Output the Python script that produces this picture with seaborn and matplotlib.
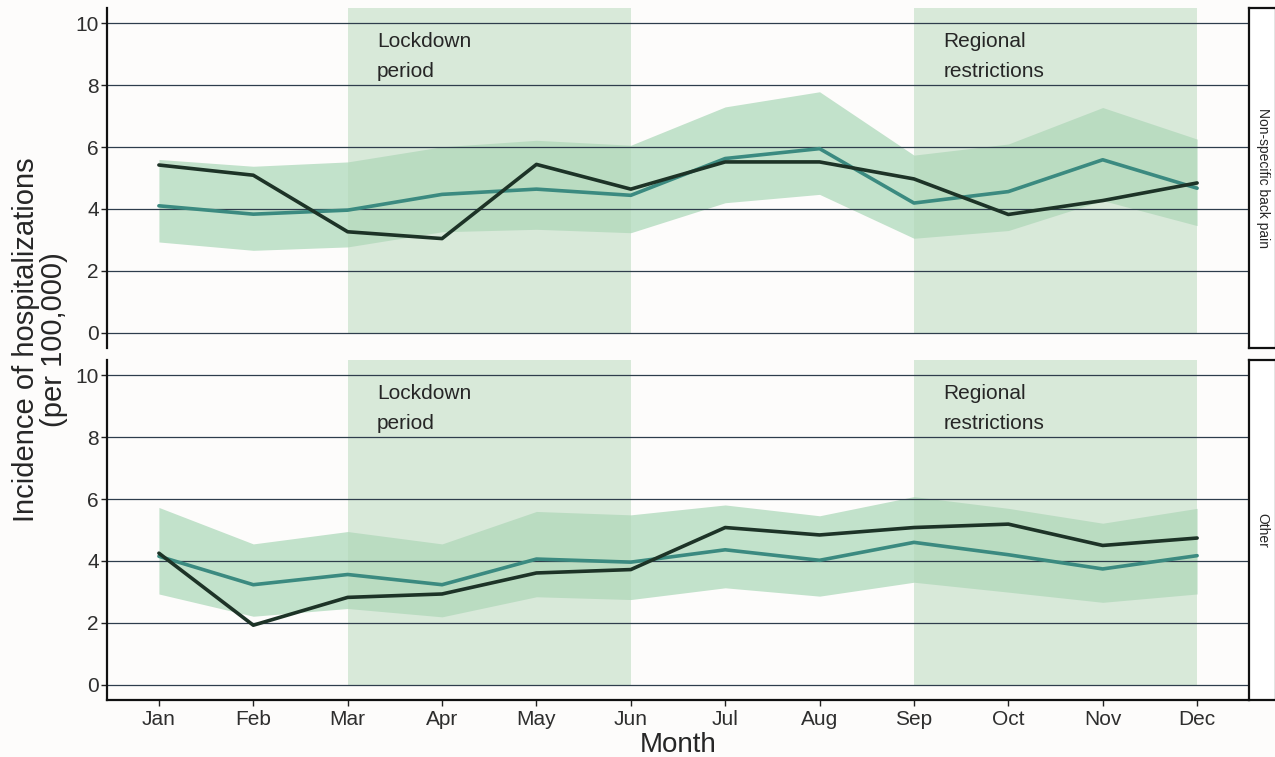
import numpy as np
import pandas as pd
import matplotlib
matplotlib.use("Agg")
import matplotlib.pyplot as plt
import seaborn as sns

# ---------------- data ----------------
months = ["Jan", "Feb", "Mar", "Apr", "May", "Jun",
          "Jul", "Aug", "Sep", "Oct", "Nov", "Dec"]
panels = ["Non-specific back pain", "Other"]

observed_nsbp = [5.42, 5.09, 3.26, 3.04, 5.44, 4.64, 5.52, 5.52, 4.97, 3.82, 4.27, 4.84]
expected_nsbp = [4.10, 3.83, 3.96, 4.47, 4.64, 4.44, 5.63, 5.95, 4.19, 4.56, 5.59, 4.67]
upper_nsbp = [5.60, 5.38, 5.52, 6.01, 6.22, 6.06, 7.30, 7.79, 5.74, 6.10, 7.28, 6.26]
lower_nsbp = [2.93, 2.66, 2.77, 3.26, 3.34, 3.23, 4.20, 4.47, 3.05, 3.30, 4.27, 3.46]

observed_other = [4.25, 1.92, 2.82, 2.93, 3.61, 3.72, 5.08, 4.84, 5.08, 5.19, 4.50, 4.74]
expected_other = [4.15, 3.23, 3.56, 3.23, 4.06, 3.96, 4.36, 4.02, 4.60, 4.20, 3.74, 4.17]
upper_other = [5.73, 4.55, 4.95, 4.55, 5.60, 5.49, 5.81, 5.46, 6.08, 5.70, 5.22, 5.70]
lower_other = [2.93, 2.21, 2.46, 2.19, 2.84, 2.75, 3.13, 2.86, 3.31, 2.99, 2.66, 2.93]

periods = [("Mar", "Jun", "Lockdown\nperiod"), ("Sep", "Dec", "Regional\nrestrictions")]
y_ticks = [0, 2, 4, 6, 8, 10]

# ---------------- styling ----------------
sns.set_theme(style="white")
plt.rcParams["font.family"] = ["Liberation Sans", "DejaVu Sans"]

C_OBS = "#1d3327"
C_EXP = "#3b8a80"
C_RIB = "#c2e2cb"
C_SHADE = "#b4d7b9"
C_GRID = "#2e3d4c"
C_TXT = "#262626"
C_TICK = "#2e2e2e"
BG = "#fdfcfb"

fig = plt.figure(figsize=(12.75, 7.57), dpi=100, facecolor=BG)

L, W = 107 / 1275, (1249 - 107) / 1275
H = 340 / 757
axes_pos = [[L, 1 - 348 / 757, W, H], [L, 1 - 700 / 757, W, H]]

data = {
    panels[0]: (observed_nsbp, expected_nsbp, lower_nsbp, upper_nsbp),
    panels[1]: (observed_other, expected_other, lower_other, upper_other),
}

x_idx = np.arange(len(months))
ylim = (-0.5, 10.5)

for i, panel in enumerate(panels):
    ax = fig.add_axes(axes_pos[i])
    ax.set_facecolor(BG)
    obs, exp, lo, hi = data[panel]

    # ribbon (prediction interval)
    ax.fill_between(x_idx, lo, hi, color=C_RIB, lw=0, zorder=0.8)

    # shaded periods
    for start, end, label in periods:
        x0, x1 = months.index(start), months.index(end)
        ax.fill_between([x0, x1], 0, ylim[1], color=C_SHADE, alpha=0.5,
                        lw=0, zorder=0.9)
        ax.text(x0 + 0.31, 9.72, label, ha="left", va="top", fontsize=15,
                color=C_TXT, linespacing=1.75, zorder=3)

    df = pd.DataFrame({
        "month": np.concatenate([x_idx, x_idx]),
        "value": np.concatenate([obs, exp]),
        "series": ["Observed"] * len(months) + ["Expected"] * len(months),
    })
    sns.lineplot(data=df, x="month", y="value", hue="series",
                 palette={"Observed": C_OBS, "Expected": C_EXP},
                 hue_order=["Expected", "Observed"],
                 linewidth=2.6, legend=False, ax=ax, zorder=2)

    ax.set_xlim(-0.55, 11.55)
    ax.set_ylim(*ylim)
    ax.set_yticks(y_ticks)
    ax.set_yticklabels([str(t) for t in y_ticks], fontsize=15, color=C_TICK)
    ax.set_axisbelow("line")
    ax.yaxis.grid(True, color=C_GRID, lw=0.9)
    ax.xaxis.grid(False)
    ax.tick_params(axis="y", length=4, width=1, color="#222222", left=True, pad=2)
    for s in ["top", "right"]:
        ax.spines[s].set_visible(False)
    ax.spines["left"].set_color("#111111")
    ax.spines["left"].set_linewidth(1.6)
    ax.set_ylabel("")

    if i == 0:
        ax.spines["bottom"].set_visible(False)
        ax.set_xticks([])
        ax.set_xlabel("")
    else:
        ax.spines["bottom"].set_color("#111111")
        ax.spines["bottom"].set_linewidth(1.6)
        ax.set_xticks(x_idx)
        ax.set_xticklabels(months, fontsize=15, color=C_TICK)
        ax.tick_params(axis="x", length=4, width=1, color="#222222", bottom=True, pad=3)
        ax.set_xlabel("Month", fontsize=20, color=C_TXT, labelpad=2)

    # strip
    sx = fig.add_axes([1249 / 1275, axes_pos[i][1], 27 / 1275, H])
    sx.set_facecolor("white")
    sx.set_xticks([])
    sx.set_yticks([])
    for s in sx.spines.values():
        s.set_color("#111111")
        s.set_linewidth(1.6)
    sx.text(0.5, 0.5, panel, rotation=-90, ha="center", va="center",
            fontsize=10, color=C_TXT, transform=sx.transAxes)

fig.text(40 / 1275, 1 - 340 / 757, "Incidence of hospitalizations\n(per 100,000)",
         rotation=90, ha="center", va="center", fontsize=21, color=C_TXT,
         linespacing=1.0)

fig.savefig("out.png", dpi=100, facecolor=BG)
